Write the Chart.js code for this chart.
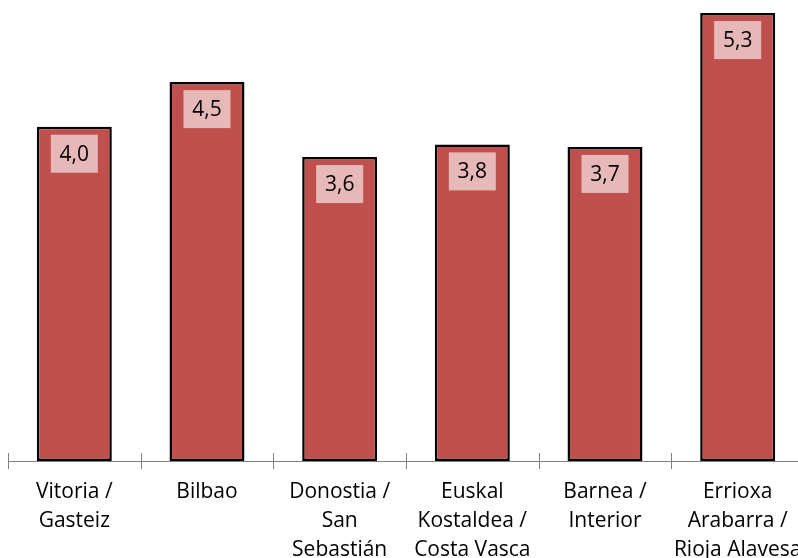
<!DOCTYPE html>
<html>
<head>
<meta charset="utf-8">
<script src="https://cdn.jsdelivr.net/npm/chart.js@4.4.0/dist/chart.umd.min.js"></script>
<style>
  html, body { margin: 0; padding: 0; background: #fff; overflow: hidden; }
  canvas { display: block; }
</style>
</head>
<body>
<canvas id="chart_zonas" width="806" height="558"></canvas>
<script>
const categorias = [
  ['Vitoria /', 'Gasteiz'],
  ['Bilbao'],
  ['Donostia /', 'San', 'Sebastián'],
  ['Euskal', 'Kostaldea /', 'Costa Vasca'],
  ['Barnea /', 'Interior'],
  ['Errioxa', 'Arabarra /', 'Rioja Alavesa']
]
const valores = [3.97, 4.50, 3.61, 3.76, 3.73, 5.32]
const cores = ['#c0504d', '#e6b9b8']

// etiquetas dentro das barras (caixa rosa clara)
const etiquetas = {
  id: 'etiquetas',
  afterDatasetsDraw(chart) {
    const ctx = chart.ctx
    const meta = chart.getDatasetMeta(0)
    ctx.save()
    ctx.font = '21px "Open Sans", sans-serif'
    ctx.textAlign = 'center'
    ctx.textBaseline = 'middle'
    meta.data.forEach((bar, i) => {
      const txt = valores[i].toFixed(1).replace('.', ',')
      const w = 47, h = 38
      const top = bar.y + 8
      ctx.fillStyle = cores[1]
      ctx.fillRect(bar.x - w / 2, top, w, h)
      ctx.fillStyle = '#000'
      ctx.fillText(txt, bar.x, top + h / 2 + 1)
    })
    ctx.restore()
  }
}

// marcas do eixo x (acima e abaixo da linha)
const marcas = {
  id: 'marcas',
  afterDraw(chart) {
    const ctx = chart.ctx
    const x = chart.scales.x
    const y0 = chart.chartArea.bottom
    ctx.save()
    ctx.strokeStyle = '#7f7f7f'
    ctx.lineWidth = 1
    ctx.beginPath()
    for (let i = 0; i <= categorias.length; i++) {
      const px = Math.round(x.getPixelForValue(i - 0.5)) + 0.5
      ctx.moveTo(px, y0 - 8)
      ctx.lineTo(px, y0 + 8)
    }
    ctx.moveTo(x.left, y0 + 0.5)
    ctx.lineTo(x.right, y0 + 0.5)
    ctx.stroke()
    ctx.restore()
  }
}

const ctx = document.getElementById('chart_zonas')
new Chart(ctx, {
  type: 'bar',
  data: {
    labels: categorias,
    datasets: [{
      data: valores,
      backgroundColor: cores[0],
      borderColor: '#000',
      borderWidth: 2.5,
      borderSkipped: false,
      categoryPercentage: 1,
      barPercentage: 0.565
    }]
  },
  options: {
    responsive: false,
    animation: false,
    layout: { padding: { left: 8, right: 2, top: 0, bottom: 0 } },
    plugins: {
      legend: { display: false },
      tooltip: { enabled: false }
    },
    scales: {
      y: {
        display: false,
        min: 0,
        max: 5.475
      },
      x: {
        grid: { display: false, drawTicks: false },
        border: { display: false },
        ticks: {
          color: '#000',
          padding: 17,
          maxRotation: 0,
          autoSkip: false,
          font: { family: '"Open Sans", sans-serif', size: 21, lineHeight: 1.38 }
        },
        afterFit: function(scale) {
          scale.height = 97
          scale.paddingLeft = 0
          scale.paddingRight = 0
        }
      }
    }
  },
  plugins: [etiquetas, marcas]
})
</script>
</body>
</html>
